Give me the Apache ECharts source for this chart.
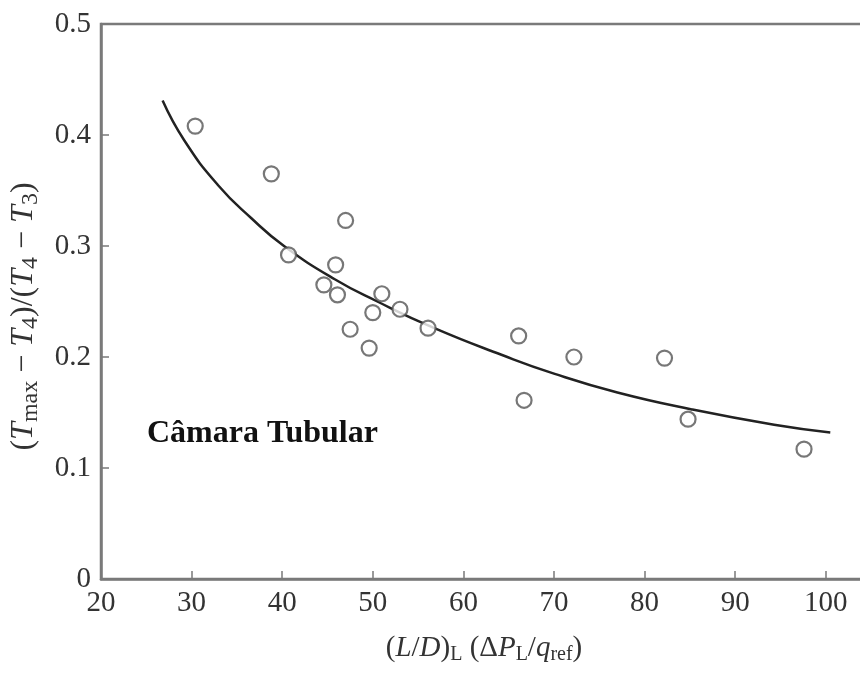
<!DOCTYPE html>
<html>
<head>
<meta charset="utf-8">
<script src="https://cdn.jsdelivr.net/npm/echarts@6/dist/echarts.min.js"></script>
<style>
  html, body { margin: 0; padding: 0; background: #fff; }
  #chart { width: 860px; height: 678px; }
</style>
</head>
<body>
<div id="chart"></div>
<script>
  // measured points (L/D)L(dPL/qref) vs temperature ratio
  var pointX = [30.4, 38.8, 47.0, 40.7, 45.9, 44.6, 46.1, 51.0, 50.0, 53.0, 56.1, 47.5, 49.6, 66.1, 72.2, 82.2, 66.7, 84.8, 97.6];
  var pointY = [0.408, 0.365, 0.323, 0.292, 0.283, 0.265, 0.256, 0.257, 0.240, 0.243, 0.226, 0.225, 0.208, 0.219, 0.200, 0.199, 0.161, 0.144, 0.117];

  // trend curve
  var curveX = [26.8, 29.2, 32.9, 36.6, 40.2, 45.8, 50.5, 56.8, 64.2, 70.0, 77.0, 85.1, 94.3, 100.5];
  var curveY = [0.431, 0.395, 0.355, 0.325, 0.300, 0.270, 0.250, 0.226, 0.202, 0.185, 0.168, 0.153, 0.139, 0.132];

  var xTicks = [20, 30, 40, 50, 60, 70, 80, 90, 100];
  var yTicks = [0, 0.1, 0.2, 0.3, 0.4, 0.5];

  var points = pointX.map(function (x, i) { return [x, pointY[i]]; });
  var curve = curveX.map(function (x, i) { return [x, curveY[i]]; });

  var chart = echarts.init(document.getElementById('chart'));
  var serif = '"Liberation Serif", "DejaVu Serif", serif';
  var txt = '#333';
  var axisGray = '#7a7a7a';

  // axis titles with italic symbols and subscripts
  var rich = {
    i: { fontFamily: serif, fontSize: 29, fontStyle: 'italic', color: txt },
    n: { fontFamily: serif, fontSize: 29, color: txt },
    s: { fontFamily: serif, fontSize: 20, color: txt, padding: [14, 0, 0, 0] },
    yi: { fontFamily: serif, fontSize: 32, fontStyle: 'italic', color: txt },
    yn: { fontFamily: serif, fontSize: 32, color: txt },
    ys: { fontFamily: serif, fontSize: 24, color: txt, padding: [15, 0, 0, 0] }
  };

  var option = {
    animation: false,
    backgroundColor: '#fff',
    grid: {
      left: 101,
      top: 24,
      width: 761,
      height: 555,
      outerBoundsMode: 'none',
      containLabel: false,
      show: true,
      borderColor: axisGray,
      borderWidth: 2.5
    },
    xAxis: {
      type: 'value',
      min: 20,
      max: 104,
      interval: 10,
      axisLine: { show: true, lineStyle: { color: axisGray, width: 2.5 } },
      axisTick: { show: true, inside: true, length: 8, lineStyle: { color: axisGray, width: 1.5 } },
      splitLine: { show: false },
      axisLabel: {
        fontFamily: serif, fontSize: 29, color: txt, margin: 10,
        formatter: function (v) { return xTicks.indexOf(v) >= 0 ? String(v) : ''; }
      },
      name: '{n|(}{i|L}{n|/}{i|D}{n|)}{s|L}{n| (Δ}{i|P}{s|L}{n|/}{i|q}{s|ref}{n|)}',
      nameLocation: 'middle',
      nameGap: 52,
      nameTextStyle: { fontFamily: serif, fontSize: 29, color: txt, rich: rich, padding: [0, 0, 0, 5] }
    },
    yAxis: {
      type: 'value',
      min: 0,
      max: 0.5,
      interval: 0.1,
      axisLine: { show: true, lineStyle: { color: axisGray, width: 2.5 } },
      axisTick: { show: true, inside: true, length: 8, lineStyle: { color: axisGray, width: 1.5 } },
      splitLine: { show: false },
      axisLabel: {
        fontFamily: serif, fontSize: 29, color: txt, margin: 10,
        formatter: function (v) {
          var t = yTicks.filter(function (y) { return Math.abs(y - v) < 1e-9; });
          return t.length ? (v === 0 ? '0' : v.toFixed(1)) : '';
        }
      },
      name: '{yn|(}{yi|T}{ys|max}{yn| − }{yi|T}{ys|4}{yn|)/(}{yi|T}{ys|4}{yn| − }{yi|T}{ys|3}{yn|)}',
      nameLocation: 'middle',
      nameGap: 58,
      nameTextStyle: { fontFamily: serif, fontSize: 32, color: txt, rich: rich, padding: [0, 30, 0, 0] }
    },
    graphic: [{
      type: 'text',
      left: 147,
      top: 418,
      style: {
        text: 'Câmara Tubular',
        font: 'bold 32px "Liberation Serif", serif',
        fill: '#111'
      }
    }],
    series: [
      {
        type: 'line',
        data: curve,
        smooth: 0.5,
        showSymbol: false,
        lineStyle: { color: '#222', width: 2.5 },
        z: 2
      },
      {
        type: 'scatter',
        data: points,
        symbol: 'circle',
        symbolSize: 15,
        itemStyle: { color: '#fff', borderColor: '#555', borderWidth: 2.2 },
        z: 3
      }
    ]
  };

  chart.setOption(option);
</script>
</body>
</html>
